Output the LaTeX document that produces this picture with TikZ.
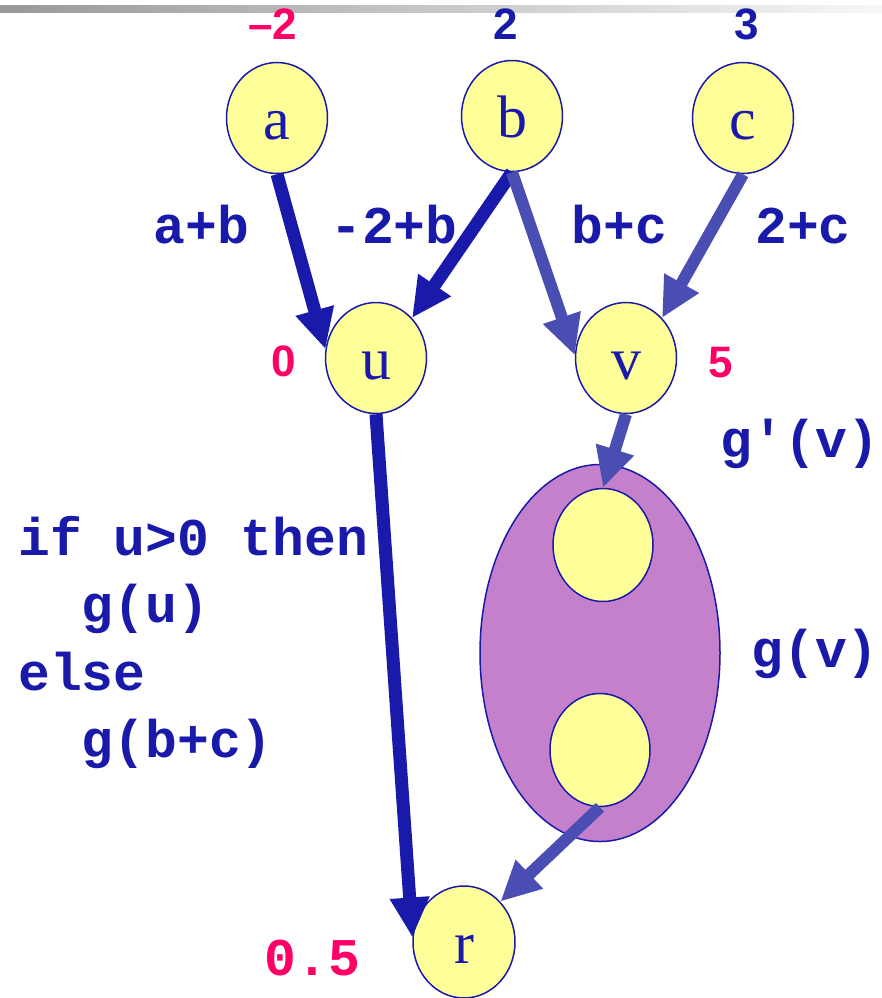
\documentclass[tikz,border=0pt]{standalone}
\usepackage{fontspec}
\setmainfont{Liberation Serif}
\setmonofont{Liberation Mono}
\newfontfamily\sansfam{Liberation Sans}
\usetikzlibrary{arrows.meta,shapes.geometric}
\definecolor{dkblue}{RGB}{26,26,170}
\definecolor{ltblue}{RGB}{74,78,179}
\definecolor{nodeyel}{RGB}{255,255,153}
\definecolor{purp}{RGB}{196,128,203}
\definecolor{pink}{RGB}{255,0,102}
\tikzset{
  vnode/.style={ellipse, draw=dkblue, line width=1.5pt, fill=nodeyel, inner sep=0pt,
    minimum width=101pt, minimum height=111pt, text=dkblue,
    font=\fontsize{60}{60}\selectfont, text height=48pt, text depth=6pt},
  codetxt/.style={text=dkblue, inner sep=0pt, font=\fontsize{53}{53}\selectfont\ttfamily\bfseries},
  pinkcode/.style={text=pink, inner sep=0pt, font=\fontsize{53}{53}\selectfont\ttfamily\bfseries},
  numtxt/.style={inner sep=0pt, font=\fontsize{44}{44}\selectfont\sansfam\bfseries},
  darkarrow/.style={draw=dkblue, line width=13pt, -{Triangle[length=40pt,width=37pt]}},
  lightarrow/.style={draw=ltblue, line width=12pt, -{Triangle[length=40pt,width=37pt]}}
}
\begin{document}
\begin{tikzpicture}[x=1pt,y=-1pt]
\useasboundingbox (0,0) rectangle (882,998);
% top bar
\shade[left color=black!40, right color=black!3] (0,6) rectangle (882,13);
% big ellipse
\node[ellipse, draw=dkblue, line width=1.5pt, fill=purp, minimum width=240pt, minimum height=377pt, inner sep=0pt] (big) at (600,653) {};
% nodes
\node[vnode] (a) at (277,118) {a};
\node[vnode] (b) at (512,116) {b};
\node[vnode] (c) at (743,118) {c};
\node[vnode] (u) at (376,358) {u};
\node[vnode] (v) at (626,358) {v};
\node[vnode, minimum width=100pt, minimum height=113pt] (it) at (603,545) {};
\node[vnode, minimum width=100pt, minimum height=113pt] (ib) at (600,750) {};
\node[vnode, minimum width=102pt, minimum height=112pt] (r) at (464,942) {r};
% arrows
\draw[darkarrow] (a.south) -- (u.170);
\draw[darkarrow] (b.south) -- (u.48);
\draw[lightarrow] (b.south) -- (v.177);
\draw[lightarrow] (c.south) -- (v.48);
\draw[lightarrow] (v.south) -- (it.north);
\draw[lightarrow] (ib.south) -- (r.48);
\draw[darkarrow] (u.south) -- (r.175);
% top numbers
\node[numtxt, text=pink, anchor=base] (na) at (273,40) {–2};
\node[numtxt, text=dkblue, anchor=base] (nb) at (506,40) {2};
\node[numtxt, text=dkblue, anchor=base] (nc) at (747,40) {3};
\node[numtxt, text=pink, anchor=base] (nu) at (284,376) {0};
\node[numtxt, text=pink, anchor=base] (nv) at (721,377) {5};
% edge labels
\node[codetxt, anchor=base] (lab) at (201.5,243) {a+b};
\node[codetxt, anchor=base] (lmb) at (394,243) {-2+b};
\node[codetxt, anchor=base] (lbc) at (619.5,243) {b+c};
\node[codetxt, anchor=base] (ltc) at (803,243) {2+c};
\node[codetxt, anchor=base] (lgp) at (800,457) {g'(v)};
\node[codetxt, anchor=base] (lgv) at (815,667) {g(v)};
% code
\node[codetxt, anchor=base west] (c1) at (18,555) {if u>0 then};
\node[codetxt, anchor=base west] (c2) at (81.6,622) {g(u)};
\node[codetxt, anchor=base west] (c3) at (18,690) {else};
\node[codetxt, anchor=base west] (c4) at (81.6,757) {g(b+c)};
% result
\node[pinkcode, anchor=base] (nr) at (312.5,975) {0.5};
\end{tikzpicture}
\end{document}
